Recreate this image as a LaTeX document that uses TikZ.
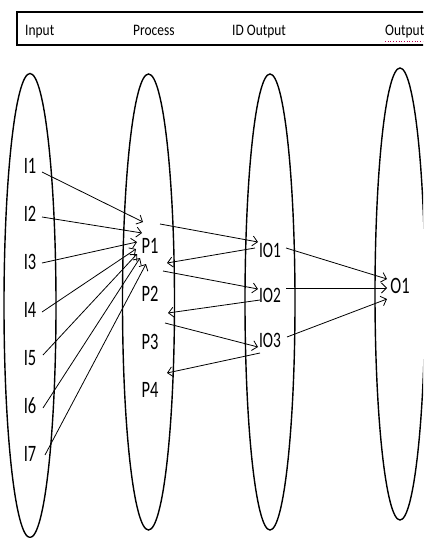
\documentclass[tikz,border=0pt]{standalone}
\usepackage{fontspec}
\usetikzlibrary{arrows.meta,calc}
\newfontfamily\headfont[FakeStretch=0.84]{Carlito}
\newfontfamily\labfont[FakeStretch=0.7]{Carlito}
\begin{document}
\begin{tikzpicture}[x=1pt,y=-1pt,
  lane/.style={line width=1.4pt},
  hdr/.style={anchor=base west,inner sep=0pt,font=\headfont\fontsize{16}{18}\selectfont},
  lab/.style={anchor=base,inner sep=0pt,font=\labfont\fontsize{23.5}{26}\selectfont},
  iolab/.style={anchor=base,inner sep=0pt,font=\labfont\fontsize{22}{25}\selectfont},
  flow/.style={line width=0.8pt,-{Straight Barb[length=5pt,width=10pt,line width=0.8pt]}}]
\useasboundingbox (0,0) rectangle (423,538);
\fill[white] (0,0) rectangle (423,538);
\clip (0,0) rectangle (423,538);

% header bar
\draw[line width=1.5pt] (17,12) rectangle (440,45);
\node[hdr] (hIn)  at (25,35)  {Input};
\node[hdr] (hPr)  at (133,35) {Process};
\node[hdr] (hIO)  at (232,35) {ID Output};
\node[hdr] (hOut) at (385,35) {Output};
\draw[red!70!blue,dotted,line width=0.7pt] ($(hOut.base west)+(0,6)$) -- ($(hOut.base east)+(0,6)$);

% the four lanes
\draw[lane] (30,305.5) ellipse [x radius=26pt, y radius=232pt];
\draw[lane] (148.5,302) ellipse [x radius=26pt, y radius=228pt];
\draw[lane] (270,302) ellipse [x radius=25pt, y radius=228pt];
\draw[lane] (400,294) ellipse [x radius=25pt, y radius=226pt];

% inputs
\node[lab] (I1) at (30,173) {I1};
\node[lab] (I2) at (30,221) {I2};
\node[lab] (I3) at (30,269) {I3};
\node[lab] (I4) at (30,317) {I4};
\node[lab] (I5) at (30,365) {I5};
\node[lab] (I6) at (30,413) {I6};
\node[lab] (I7) at (30,461) {I7};

% processes
\node[lab] (P1) at (150,253) {P1};
\node[lab] (P2) at (150,301) {P2};
\node[lab] (P3) at (150,349) {P3};
\node[lab] (P4) at (150,397) {P4};

% intermediate outputs
\node[iolab] (IO1) at (270,257) {IO1};
\node[iolab] (IO2) at (270,302) {IO2};
\node[iolab] (IO3) at (270,347) {IO3};

% output
\node[lab] (O1) at (400,293) {O1};

% inputs into P1
\draw[flow] ($(I1.base)+(12,-1)$)  -- ($(P1.base)+(-7,-31)$);
\draw[flow] ($(I2.base)+(12,-4)$)  -- ($(P1.base)+(-8,-20)$);
\draw[flow] ($(I3.base)+(12,-6)$)  -- ($(P1.base)+(-13,-11)$);
\draw[flow] ($(I4.base)+(12,-5)$)  -- ($(P1.base)+(-14,-4)$);
\draw[flow] ($(I5.base)+(13,-10)$) -- ($(P1.base)+(-13,1)$);
\draw[flow] ($(I6.base)+(13,-5)$)  -- ($(P1.base)+(-10,5)$);
\draw[flow] ($(I7.base)+(15,-6)$)  -- ($(P1.base)+(-4,11)$);

% processes to and from intermediate outputs
\draw[flow] ($(P1.base)+(10,-29)$)  -- ($(IO1.base)+(-12,-15)$);
\draw[flow] ($(IO1.base)+(-15,-9)$) -- ($(P1.base)+(17,10)$);
\draw[flow] ($(P2.base)+(13,-30)$)  -- ($(IO2.base)+(-12,-13)$);
\draw[flow] ($(IO2.base)+(-10,-2)$) -- ($(P2.base)+(18,12)$);
\draw[flow] ($(P3.base)+(15,-26)$)  -- ($(IO3.base)+(-12,0)$);
\draw[flow] ($(IO3.base)+(-10,6)$)  -- ($(P4.base)+(17,-24)$);

% intermediate outputs into O1
\draw[flow] ($(IO1.base)+(16,-9)$)  -- ($(O1.base)+(-13,-14)$);
\draw[flow] ($(IO2.base)+(16,-14)$) -- ($(O1.base)+(-13,-5)$);
\draw[flow] ($(IO3.base)+(17,-10)$) -- ($(O1.base)+(-13,6)$);
\end{tikzpicture}
\end{document}
